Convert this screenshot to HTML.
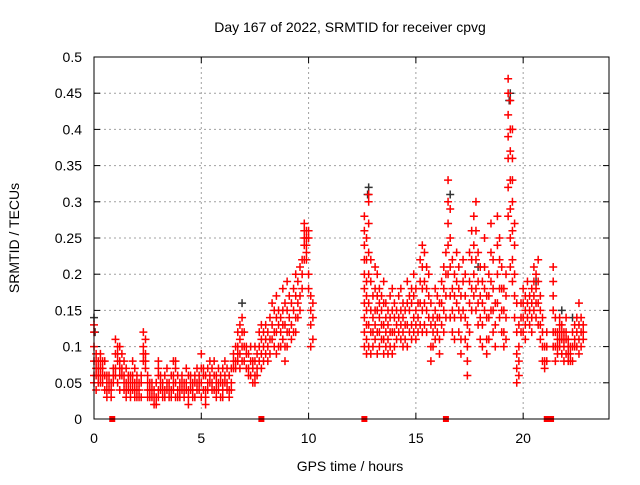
<!DOCTYPE html>
<html><head><meta charset="utf-8"><style>
body{margin:0;background:#fff}
svg text{font-family:"Liberation Sans",sans-serif;font-size:14px;fill:#000}
</style></head><body>
<svg id="chart" width="640" height="480" viewBox="0 0 640 480" xmlns="http://www.w3.org/2000/svg">
<rect width="640" height="480" fill="#fff"/>
<text x="350" y="32" text-anchor="middle">Day 167 of 2022, SRMTID for receiver cpvg</text>
<text x="350" y="471" text-anchor="middle">GPS time / hours</text>
<text transform="translate(19,238) rotate(-90)" text-anchor="middle">SRMTID / TECUs</text>
<g id="grid"></g>
<g id="ticks"></g>
<g id="black"></g>
<g id="red"></g>
<g id="gaps"></g>
<rect x="94" y="57" width="515" height="362" fill="none" stroke="#000" stroke-width="1"/>
</svg>
<script>
const xTicks=[0,5,10,15,20];
const yTicks=[0,0.05,0.1,0.15,0.2,0.25,0.3,0.35,0.4,0.45,0.5];
const yTickLabels=["0","0.05","0.1","0.15","0.2","0.25","0.3","0.35","0.4","0.45","0.5"];
const gapTimes=[0.85,7.8,12.6,16.4,21.1,21.3];
const times=[0,0.1,0.2,0.3,0.4,0.5,0.6,0.7,0.8,0.9,1,1.1,1.2,1.3,1.4,1.5,1.6,1.7,1.8,1.9,2,2.1,2.2,2.3,2.4,2.5,2.6,2.7,2.8,2.9,3,3.1,3.2,3.3,3.4,3.5,3.6,3.7,3.8,3.9,4,4.1,4.2,4.3,4.4,4.5,4.6,4.7,4.8,4.9,5,5.1,5.2,5.3,5.4,5.5,5.6,5.7,5.8,5.9,6,6.1,6.2,6.3,6.4,6.5,6.6,6.7,6.8,6.9,7,7.1,7.2,7.3,7.4,7.5,7.6,7.7,7.8,7.9,8,8.1,8.2,8.3,8.4,8.5,8.6,8.7,8.8,8.9,9,9.1,9.2,9.3,9.4,9.5,9.6,9.7,9.8,9.9,10,10.1,10.2,12.6,12.7,12.8,12.9,13,13.1,13.2,13.3,13.4,13.5,13.6,13.7,13.8,13.9,14,14.1,14.2,14.3,14.4,14.5,14.6,14.7,14.8,14.9,15,15.1,15.2,15.3,15.4,15.5,15.6,15.7,15.8,15.9,16,16.1,16.2,16.3,16.4,16.5,16.6,16.7,16.8,16.9,17,17.1,17.2,17.3,17.4,17.5,17.6,17.7,17.8,17.9,18,18.1,18.2,18.3,18.4,18.5,18.6,18.7,18.8,18.9,19,19.1,19.2,19.3,19.4,19.5,19.6,19.7,19.8,19.9,20,20.1,20.2,20.3,20.4,20.5,20.6,20.7,20.8,20.9,21,21.1,21.4,21.5,21.6,21.7,21.8,21.9,22,22.1,22.2,22.3,22.4,22.5,22.6,22.7,22.8];
const values=[[.12,.13,.10,.08,.06,.05],[.07,.08,.06,.04,.09],[.06,.07,.05,.08],[.07,.09,.06,.05,.08],[.07,.06,.08,.05],[.08,.06,.04],[.05,.04,.03,.06],[.05,.04,.06],[.05,.04,.03],[.06,.07,.05],[.07,.09,.11,.06],[.08,.10,.09,.05],[.10,.08,.07,.06,.04],[.09,.07,.06],[.08,.06,.05,.04],[.07,.05,.04,.03],[.06,.05,.04],[.05,.04,.03,.06],[.08,.06,.05,.04],[.07,.05,.04,.03],[.06,.05,.04,.03],[.05,.04,.03],[.06,.05,.03],[.12,.10,.09,.08],[.11,.09,.08,.07],[.06,.05,.04,.03],[.05,.04,.03],[.04,.03,.05],[.04,.03,.02],[.05,.03,.02],[.07,.08,.06,.04,.03],[.06,.05,.04],[.05,.04,.03],[.06,.04,.03],[.07,.05,.04],[.05,.04,.03],[.06,.04,.03],[.08,.06,.05,.04],[.08,.07,.05,.03],[.06,.04,.03],[.05,.04,.03],[.06,.05,.04],[.05,.04,.03],[.07,.05,.04],[.06,.04,.03,.02],[.06,.05,.04],[.05,.04,.03],[.06,.05,.03],[.07,.05,.04],[.06,.05,.04],[.09,.07,.05,.03],[.07,.06,.04],[.06,.04,.03,.02],[.07,.05,.04],[.08,.06,.05],[.07,.05,.04],[.08,.06,.04],[.06,.05,.04,.03],[.07,.05,.04],[.06,.05,.03],[.07,.05,.04,.03],[.08,.06,.05],[.07,.05,.04],[.06,.04,.03],[.07,.05,.04],[.09,.08,.07],[.10,.08,.07],[.12,.10,.09,.08],[.13,.11,.09,.07],[.14,.12,.10,.08],[.12,.10,.08],[.10,.09,.07],[.09,.07,.06],[.10,.08,.06],[.08,.07,.05],[.10,.08,.06,.05],[.09,.07,.06],[.12,.10,.08],[.13,.11,.09,.07],[.12,.10,.08],[.13,.11,.09],[.12,.10,.08],[.14,.11,.09],[.16,.13,.11],[.15,.12,.10],[.17,.14,.12,.09],[.15,.13,.10],[.14,.12,.10],[.18,.15,.13,.11],[.16,.13,.10,.08],[.19,.15,.12,.10],[.17,.14,.12],[.16,.13,.11],[.18,.15,.12],[.20,.17,.14,.12],[.19,.16,.14],[.21,.17,.15],[.22,.20,.18],[.27,.26,.25,.24,.22],[.26,.25,.24,.23,.22],[.26,.25,.20,.18],[.17,.15,.13,.10],[.16,.14,.11],[.28,.26,.24,.22,.20,.18,.16,.14,.12,.10],[.25,.22,.19,.17,.15,.13,.11,.09],[.31,.30,.27,.23,.20,.16,.13,.10],[.22,.19,.15,.12,.09],[.17,.14,.12,.10],[.21,.18,.15,.13,.11],[.20,.17,.15,.12,.09],[.18,.16,.14,.12,.10],[.17,.15,.13,.11],[.19,.16,.13,.11,.09],[.16,.14,.12,.10],[.15,.13,.11,.09],[.17,.14,.12,.10],[.18,.15,.12,.09],[.16,.14,.12,.10],[.15,.13,.11],[.17,.14,.12],[.18,.15,.13,.11],[.16,.14,.12,.10],[.15,.13,.11],[.19,.16,.13,.10],[.17,.15,.12],[.18,.16,.13,.11],[.20,.17,.14,.12],[.18,.15,.13,.11],[.16,.14,.12],[.22,.19,.16,.13],[.24,.21,.18,.15,.12],[.23,.19,.16,.13],[.21,.18,.15,.12],[.20,.17,.14],[.16,.13,.10,.08],[.14,.12,.10],[.18,.15,.13,.11],[.17,.14,.12],[.16,.14,.11,.09],[.19,.16,.13],[.21,.18,.15,.12],[.23,.20,.17,.14],[.33,.30,.27,.24,.20],[.29,.25,.21,.17,.14],[.22,.18,.15,.12],[.20,.17,.14,.11],[.23,.19,.16],[.21,.18,.15,.12],[.17,.14,.11,.09],[.22,.19,.15],[.20,.17,.14,.11],[.13,.10,.08,.06],[.23,.19,.16,.12],[.26,.22,.18,.15],[.28,.24,.20,.17],[.30,.26,.22,.18,.15],[.23,.19,.16,.13],[.21,.17,.14,.11],[.19,.16,.13,.10],[.25,.21,.18,.15],[.17,.14,.11,.09],[.20,.17,.14,.11],[.27,.23,.19,.15],[.22,.18,.15,.12],[.16,.13,.10],[.28,.24,.20,.16],[.25,.22,.18,.14],[.21,.18,.15,.12],[.18,.15,.12,.10],[.20,.17,.14,.11],[.47,.45,.42,.39,.36,.32,.28],[.44,.40,.37,.33,.29,.25,.21],[.40,.36,.33,.30,.26,.22,.19],[.27,.24,.20,.17,.14],[.16,.12,.09,.07,.05],[.13,.10,.08,.06],[.16,.14,.12],[.18,.16,.14,.12],[.17,.15,.13,.11],[.19,.16,.14],[.17,.15,.13],[.18,.16,.14,.12],[.21,.19,.17,.15],[.20,.18,.16,.14],[.22,.19,.16,.13],[.17,.15,.13,.11],[.14,.12,.10,.08],[.10,.08,.07],[.12,.10,.08],[.21,.19,.17,.15,.12,.10],[.14,.12,.10,.08],[.12,.11,.10,.09],[.14,.13,.12,.11,.10],[.13,.12,.11,.09],[.12,.11,.10,.08],[.14,.12,.11,.09],[.11,.10,.09,.08],[.10,.09,.08],[.12,.10,.08],[.13,.11,.10],[.14,.12,.10],[.16,.13,.11,.09],[.14,.12,.10],[.13,.12,.11]];
const blackTimes=[0,0.05,6.9,12.75,12.8,16.6,19.35,19.4,21.8,22.3,17.9,20.6];
const blackValues=[.14,.12,.16,.31,.32,.31,.44,.45,.15,.14,.21,.19];

const X0=94,X1=609,Y0=419,Y1=57;
const xs=t=>X0+(t/24)*(X1-X0);
const ys=v=>Y0-(v/0.5)*(Y0-Y1);
const NS="http://www.w3.org/2000/svg";
function mk(tag,attrs,parent){const e=document.createElementNS(NS,tag);for(const k in attrs)e.setAttribute(k,attrs[k]);parent.appendChild(e);return e;}
const grid=document.getElementById('grid'),ticks=document.getElementById('ticks');
xTicks.forEach(t=>{const x=xs(t);
 if(t>0){const g=mk('line',{x1:x,x2:x,y1:Y1,y2:Y0,stroke:'#a0a0a0','stroke-dasharray':'2,3'},grid);}
 mk('line',{x1:x,x2:x,y1:Y0,y2:Y0-6,stroke:'#000'},ticks);mk('line',{x1:x,x2:x,y1:Y1,y2:Y1+6,stroke:'#000'},ticks);
 const tx=mk('text',{x:x,y:Y0+24,'text-anchor':'middle'},ticks);tx.textContent=t;
 
 });
yTicks.forEach((v,i)=>{const y=ys(v);
 if(i>0&&i<yTicks.length-1){const g=mk('line',{x1:X0,x2:X1,y1:y,y2:y,stroke:'#a0a0a0','stroke-dasharray':'2,3'},grid);}
 mk('line',{x1:X0,x2:X0+6,y1:y,y2:y,stroke:'#000'},ticks);mk('line',{x1:X1,x2:X1-6,y1:y,y2:y,stroke:'#000'},ticks);
 const tx=mk('text',{x:X0-12,y:y+5,'text-anchor':'end'},ticks);tx.textContent=yTickLabels[i];
 
 });
function plus(t,v,color,parent){const x=xs(t),y=ys(v);
 const p=mk('path',{d:`M${x-4},${y}H${x+4}M${x},${y-4}V${y+4}`,stroke:color,'stroke-width':1.5,fill:'none'},parent);
 
 }
const blk=document.getElementById('black');
blackTimes.forEach((t,i)=>plus(t,blackValues[i],'#333',blk));
const red=document.getElementById('red');
times.forEach((t,i)=>values[i].forEach(v=>plus(t,v,'#ff0000',red)));
const gaps=document.getElementById('gaps');
gapTimes.forEach(t=>{const r=mk('rect',{x:xs(t)-3,y:Y0-3,width:6,height:6,fill:'#ff0000'},gaps);
 
 });
</script>
</body></html>
